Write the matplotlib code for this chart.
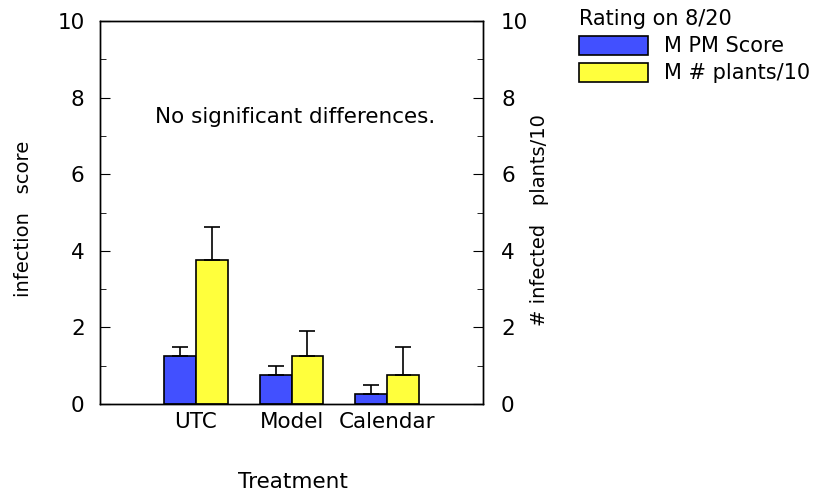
import numpy as np
import matplotlib
matplotlib.use("Agg")
from matplotlib import pyplot as plt  # noqa

treatments = ['UTC', 'Model', 'Calendar']
pm_score = [1.25, 0.75, 0.25]
pm_score_err = [0.25, 0.25, 0.25]
plants = [3.75, 1.25, 0.75]
plants_err = [0.87, 0.65, 0.75]

blue = '#4250ff'
yellow = '#ffff3c'
fs = 15.5

plt.rcParams['font.family'] = 'DejaVu Sans'

fig = plt.figure(figsize=(8.17, 4.93), dpi=100)
ax = fig.add_axes([0.1224, 0.1805, 0.4688, 0.7769])

x = np.arange(1, len(treatments) + 1)
w = 0.333
bars1 = ax.bar(x - w / 2, pm_score, w, color=blue, edgecolor='black', linewidth=1.2,
               yerr=[np.zeros(3), pm_score_err], capsize=5.5,
               error_kw=dict(elinewidth=1.2, capthick=1.2, ecolor='black'),
               label='M PM Score', zorder=2)
bars2 = ax.bar(x + w / 2, plants, w, color=yellow, edgecolor='black', linewidth=1.2,
               yerr=[np.zeros(3), plants_err], capsize=5.5,
               error_kw=dict(elinewidth=1.2, capthick=1.2, ecolor='black'),
               label='M # plants/10', zorder=2)

ax.set_xlim(0, 4)
ax.set_ylim(0, 10)
ax.set_xticks(x)
ax.set_xticklabels(treatments, fontsize=fs)
ax.tick_params(axis='x', length=0, pad=6)
ax.set_yticks(range(0, 11, 2))
ax.set_yticks(range(1, 10, 2), minor=True)
ax.tick_params(axis='y', which='both', direction='in', labelsize=fs, pad=11)
ax.tick_params(axis='y', which='major', length=7)
ax.tick_params(axis='y', which='minor', length=4.5)

ax.set_xlabel('Treatment', fontsize=fs)
ax.xaxis.set_label_coords(0.504, -0.178)
ax.set_ylabel('infection   score', fontsize=14)
ax.yaxis.set_label_coords(-0.176, 0.483)

ax2 = ax.twinx()
ax2.set_ylim(0, 10)
ax2.set_yticks(range(0, 11, 2))
ax2.set_yticks(range(1, 10, 2), minor=True)
ax2.tick_params(axis='y', which='both', direction='in', labelsize=fs, pad=13)
ax2.tick_params(axis='y', which='major', length=7)
ax2.tick_params(axis='y', which='minor', length=4.5)
ax2.set_ylabel('# infected   plants/10', fontsize=14)
ax2.yaxis.set_label_coords(1.122, 0.48)

for a in (ax, ax2):
    for s in a.spines.values():
        s.set_linewidth(1.0)

ax.text(2.04, 7.5, 'No significant differences.', fontsize=fs, ha='center', va='center')

fig.legend(handles=[bars1, bars2], labels=['M PM Score', 'M # plants/10'],
           title='Rating on 8/20', title_fontsize=15, fontsize=15,
           loc='upper left', bbox_to_anchor=(0.699, 0.998), frameon=False,
           alignment='left', handlelength=3.3, handleheight=1.05,
           handletextpad=0.75, labelspacing=0.3, borderaxespad=0.0)

fig.savefig('out.png', dpi=100)
